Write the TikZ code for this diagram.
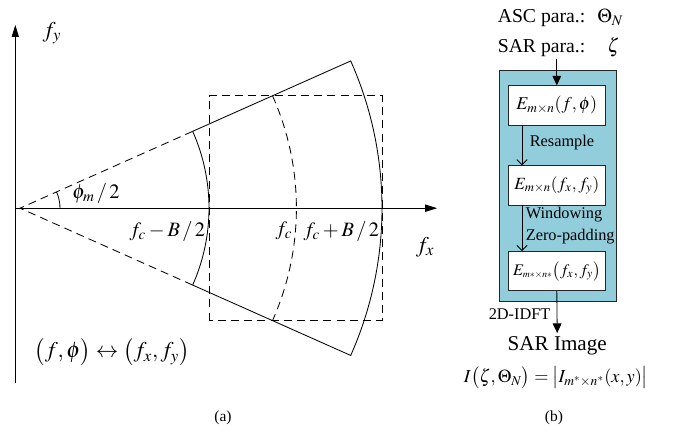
\documentclass[tikz,border=0pt]{standalone}
\usepackage{mathptmx}
\usepackage[no-math]{fontspec}
\setmainfont{Liberation Serif}
\usetikzlibrary{arrows.meta,positioning,calc}

\definecolor{aqua}{RGB}{146,205,220}
\newcommand{\fsz}[1]{\fontsize{#1}{1.2\dimexpr#1pt\relax}\selectfont}

\begin{document}
\begin{tikzpicture}[
  line width=0.6pt,
  txt/.style={font=\fsz{11.6}, inner sep=1pt},
  big/.style={font=\fsz{14}, inner sep=1pt},
  mth/.style={font=\fsz{14.5}, inner sep=1pt},
  box/.style={rectangle, draw=black!85, fill=white, minimum width=2.42cm, minimum height=0.98cm, inner sep=1pt, font=\fsz{12.8}},
  stage/.style={rectangle, draw=black!85, fill=aqua, minimum width=2.925cm, minimum height=5.775cm},
  dashline/.style={dash pattern=on 2mm off 1.3mm},
  tri/.style={-{Triangle[length=2.4mm,width=2.2mm]}},
  barb/.style={-{Straight Barb[length=1.3mm,width=2.6mm]}},
  axis/.style={-{Triangle[length=3mm,width=1.8mm]}},
]
\useasboundingbox (0,0) rectangle (16.95,10.775);

% ---------------- Panel (a): polar support ----------------
\coordinate (O) at (0.5,5.57);
\coordinate (ybot) at (0.383,1.2);
\coordinate (ytop) at (0.383,10.15);
\coordinate (xl) at (0.383,5.57);
\coordinate (xr) at (10.93,5.57);
\coordinate (iu) at ($(O)+(24:4.725)$);
\coordinate (il) at ($(O)+(-24:4.725)$);
\coordinate (mu) at ($(O)+(24:6.91)$);
\coordinate (ml) at ($(O)+(-24:6.91)$);
\coordinate (ou) at ($(O)+(24:9.05)$);
\coordinate (ia) at ($(O)+(4.725,0)$);
\coordinate (oa) at ($(O)+(9.05,0)$);

\draw[axis] (ybot) -- (ytop);
\draw[axis] (xl) -- (xr);

\draw (iu) -- (ou) arc[start angle=24, end angle=-24, radius=9.05]
  -- (il) arc[start angle=-24, end angle=24, radius=4.725];
\draw[dashline] (iu) -- (O) -- (il);
\draw[dashline] (mu) arc[start angle=24, end angle=-24, radius=6.91];
\draw[dashline] (ml -| ia) rectangle (mu -| oa);
\draw ($(O)+(1,0)$) arc[start angle=0, end angle=24, radius=1];

\node[mth, font=\fsz{16}] (fy) at (1.3,9.95) {$f_y$};
\node[mth, font=\fsz{16}] (fx) at (10.63,4.6) {$f_x$};
\node[mth] (phi) at (2.4,5.95) {$\phi_m\,/\,2$};
\node[mth] (fcm) at (4.18,5.0) {$f_c-B\,/\,2$};
\node[mth] (fc) at (7.1,5.0) {$f_c$};
\node[mth] (fcp) at (8.53,5.0) {$f_c+B\,/\,2$};
\node[mth, font=\fsz{16}] (map) at (2.8,1.97) {$\bigl(f,\phi\bigr)\leftrightarrow\bigl(f_x,f_y\bigr)$};
\node[txt, font=\fsz{11}] (capa) at (5.575,0.325) {(a)};

% ---------------- Panel (b): imaging chain ----------------
\node[big, anchor=west] (asc) at (12.4,10.325) {ASC para.:\hspace{0.3cm}$\Theta_N$};
\node[big, anchor=west] (sar) at (12.4,9.6) {SAR para.:\hspace{0.55cm}$\zeta$};
\node[stage] (stage) at (13.94,6.12) {};
\node[box] (e1) at (13.92,8.14) {$E_{m\times n}(f,\phi)$};
\node[box, font=\fsz{12.2}] (e2) at (13.92,6.14) {$E_{m\times n}(f_x,f_y)$};
\node[box, font=\fsz{11.5}] (e3) at (13.92,3.995) {$E_{\scriptscriptstyle m*\times n*}\bigl(f_x,f_y\bigr)$};
\node[txt, anchor=west] (rs) at (13.2,7.2) {Resample};
\node[txt, font=\fontsize{11.6}{15.4}\selectfont, anchor=west, align=left] (wz) at (13.1,5.13) {Windowing\\Zero-padding};
\node[big, font=\fsz{15}, inner sep=0pt] (img) at (13.93,2.12) {SAR Image};
\node[txt] (idft) at (12.99,2.925) {2D-IDFT};
\node[mth, font=\fsz{13}, inner sep=0pt] (eq) at (13.9,1.33) {$I\bigl(\zeta,\Theta_N\bigr)=\bigl|I_{m^*\times n^*}(x,y)\bigr|$};
\node[txt, font=\fsz{11}] (capb) at (13.85,0.325) {(b)};

\draw[tri] (sar.south -| e1.north) -- (e1.north);
\draw[barb] ([xshift=-0.87cm]e1.south) -- ([xshift=-0.87cm]e1.south |- e2.north);
\draw[barb] ([xshift=-0.87cm]e2.south) -- ([xshift=-0.87cm]e2.south |- e3.north);
\draw[tri] (e3.south) -- ([yshift=2.5pt]img.north);
\end{tikzpicture}
\end{document}
